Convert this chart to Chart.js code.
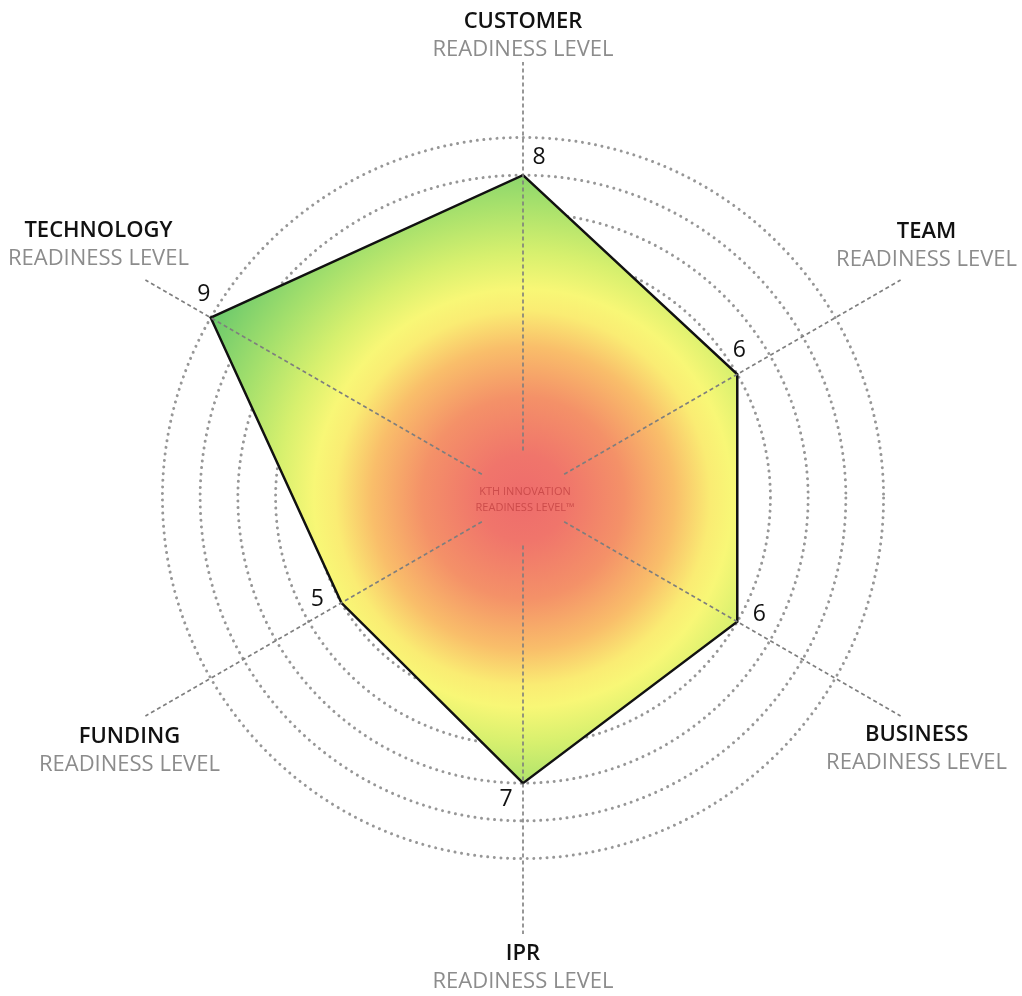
<!DOCTYPE html>
<html lang="en">
<head>
<meta charset="UTF-8">
<title>KTH Innovation Readiness Level</title>
<style>
  html, body { margin: 0; padding: 0; background: #fff; }
  #wrap { width: 1022px; height: 996px; }
</style>
</head>
<body>
<div id="wrap"><canvas id="krl" width="1022" height="996"></canvas></div>

<script src="https://cdn.jsdelivr.net/npm/chart.js"></script>
<script>
// axes, clockwise from the top
const axisNames = ['CUSTOMER', 'TEAM', 'BUSINESS', 'IPR', 'FUNDING', 'TECHNOLOGY'];
const axisSub = 'READINESS LEVEL';
const levels = [8, 6, 6, 7, 5, 9];
const rings = [1, 2, 3, 4, 5, 6, 7, 8, 9];
const centerText = ['KTH INNOVATION', 'READINESS LEVEL\u2122'];

// level 0 sits a bit out from the middle, axis lines run on past ring 9
const scaleMin = -0.56;
const scaleMax = 11;
const axisFrom = 0.7;

// fine placement of the titles and the corner numbers (px)
const titleNudge = [[0, 4], [0, -19], [-10, 18], [0, 4], [10, 20], [-21, -20]];
const numNudge = [[16, -18], [2, -24], [22, -7], [-17, 16], [-24, -3], [-7, -23]];

const gradientStops = [
    [0.00, 'rgb(238,108,108)'],
    [0.12, 'rgb(240,117,107)'],
    [0.28, 'rgb(244,145,104)'],
    [0.42, 'rgb(249,190,106)'],
    [0.52, 'rgb(250,236,115)'],
    [0.58, 'rgb(248,247,118)'],
    [0.68, 'rgb(215,240,110)'],
    [0.82, 'rgb(165,224,108)'],
    [1.00, 'rgb(105,200,108)']
];

function fillGradient(context) {
    const chart = context.chart;
    const r = chart.scales.r;
    if (!chart.chartArea || !r) return 'rgba(0,0,0,0)';
    const outer = r.getDistanceFromCenterForValue(rings[rings.length - 1]);
    const g = chart.ctx.createRadialGradient(r.xCenter, r.yCenter, 0, r.xCenter, r.yCenter, outer);
    gradientStops.forEach(s => g.addColorStop(s[0], s[1]));
    return g;
}

const decor = {
    id: 'decor',
    beforeDraw(chart) {
        chart.ctx.lineCap = 'round';
    },
    afterDatasetsDraw(chart) {
        // dashed axis lines, leaving the middle free for the title
        const r = chart.scales.r;
        const ctx = chart.ctx;
        ctx.save();
        ctx.strokeStyle = '#7e7e7e';
        ctx.lineWidth = 1.6;
        ctx.lineCap = 'butt';
        ctx.setLineDash([4, 3]);
        axisNames.forEach((n, i) => {
            const a = r.getPointPositionForValue(i, axisFrom);
            const b = r.getPointPositionForValue(i, scaleMax);
            ctx.beginPath();
            ctx.moveTo(a.x, a.y);
            ctx.lineTo(b.x, b.y);
            ctx.stroke();
        });
        ctx.restore();
    },
    afterDraw(chart) {
        const r = chart.scales.r;
        const ctx = chart.ctx;
        ctx.save();
        ctx.textAlign = 'center';
        ctx.textBaseline = 'middle';

        // axis titles
        axisNames.forEach((n, i) => {
            const p = r.getPointPosition(i, r.drawingArea + 30);
            const x = p.x + titleNudge[i][0];
            const y = p.y + titleNudge[i][1];
            ctx.font = '600 22px "Open Sans"';
            ctx.fillStyle = '#111';
            ctx.fillText(n, x, y - 14);
            ctx.font = '400 22px "Open Sans"';
            ctx.fillStyle = '#8c8c8c';
            ctx.fillText(axisSub, x, y + 14);
        });

        // level numbers at the corners
        const meta = chart.getDatasetMeta(0);
        ctx.font = '400 23px "Open Sans"';
        ctx.fillStyle = '#111';
        meta.data.forEach((pt, i) => {
            ctx.fillText(String(levels[i]), pt.x + numNudge[i][0], pt.y + numNudge[i][1]);
        });

        // title in the middle
        ctx.font = '400 11px "Open Sans"';
        ctx.fillStyle = 'rgba(195,66,66,0.8)';
        ctx.fillText(centerText[0], r.xCenter + 2, r.yCenter - 6);
        ctx.fillText(centerText[1], r.xCenter + 2, r.yCenter + 10);
        ctx.restore();
    }
};

new Chart(document.getElementById('krl'), {
    type: 'radar',
    data: {
        labels: axisNames,
        datasets: [{
            data: levels,
            fill: 'start',
            backgroundColor: fillGradient,
            borderColor: '#111',
            borderWidth: 2.5,
            borderJoinStyle: 'miter',
            pointRadius: 0,
            pointHoverRadius: 0
        }]
    },
    options: {
        responsive: false,
        animation: false,
        layout: { padding: { left: 87, right: 62, top: 62, bottom: 61 } },
        plugins: { legend: { display: false }, tooltip: { enabled: false } },
        scales: {
            r: {
                z: 1,
                min: scaleMin,
                max: scaleMax,
                afterBuildTicks(scale) {
                    scale.ticks = rings.map(v => ({ value: v }));
                },
                ticks: { display: false },
                pointLabels: { display: false },
                angleLines: { display: false },
                grid: { circular: true, color: '#979797', lineWidth: 3 },
                border: { dash: [0.01, 6.6] }
            }
        }
    },
    plugins: [decor]
});
</script>
</body>
</html>
